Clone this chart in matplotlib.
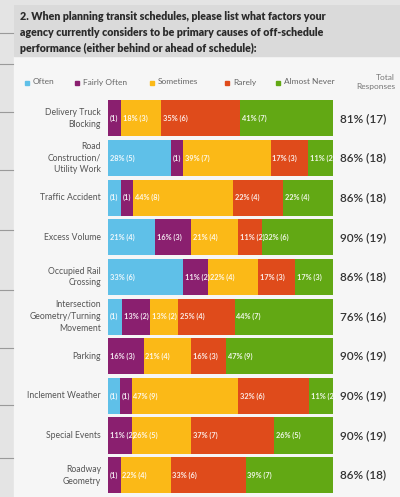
import matplotlib.pyplot as plt
from matplotlib.patches import Rectangle

plt.rcParams['font.family'] = ['Lato', 'DejaVu Sans']

categories = ['Delivery Truck\nBlocking', 'Road\nConstruction/\nUtility Work', 'Traffic Accident',
              'Excess Volume', 'Occupied Rail\nCrossing', 'Intersection\nGeometry/Turning\nMovement',
              'Parking', 'Inclement Weather', 'Special Events', 'Roadway\nGeometry']
series = ['Often', 'Fairly Often', 'Sometimes', 'Rarely', 'Almost Never']
colors = ['#5fc0e8', '#8a1f6f', '#fbb917', '#df4b1b', '#62a814']

often = [0, 5, 1, 4, 6, 1, 0, 1, 0, 0]
fairly_often = [1, 1, 1, 3, 2, 2, 3, 1, 2, 1]
sometimes = [3, 7, 8, 4, 4, 2, 4, 9, 5, 4]
rarely = [6, 3, 4, 2, 3, 4, 3, 6, 7, 6]
almost_never = [7, 2, 4, 6, 3, 7, 9, 2, 5, 7]
totals = ['81% (17)', '86% (18)', '86% (18)', '90% (19)', '86% (18)',
          '76% (16)', '90% (19)', '90% (19)', '90% (19)', '86% (18)']

title = ('2. When planning transit schedules, please list what factors your\n'
         'agency currently considers to be primary causes of off-schedule\n'
         'performance (either behind or ahead of schedule):')

W, H = 400, 497
fig = plt.figure(figsize=(W / 100, H / 100), dpi=100)
fig.patch.set_facecolor('#e4e4e4')

# page background: left strip with table lines, white panel, grey title band
for y in [33, 64, 112, 170, 230, 290, 348, 405, 458]:
    fig.add_artist(plt.Line2D([0, 13 / W], [1 - y / H] * 2, color='#9a9a9a', lw=0.8))
fig.add_artist(Rectangle((14 / W, 0), 1 - 14 / W, 1 - 5 / H, color='#f6f6f6', zorder=0))
fig.add_artist(Rectangle((14 / W, 1 - 56 / H), 1 - 14 / W, 51 / H, color='#dadada', zorder=0))
fig.text(20 / W, 1 - 11 / H, title, ha='left', va='top', fontsize=7.7, fontweight='heavy',
         color='#2b2b2b', linespacing=1.55)

# legend
leg_x = [25, 75, 150, 225, 276]
for x, name, c in zip(leg_x, series, colors):
    fig.add_artist(Rectangle((x / W, 1 - 84.5 / H), 4 / W, 4 / H, color=c))
    fig.text((x + 8) / W, 1 - 82 / H, name, ha='left', va='center', fontsize=6.0, color='#666666')
fig.text(395 / W, 1 - 82 / H, 'Total\nResponses', ha='right', va='center', fontsize=6.0,
         color='#777777', linespacing=1.5)

ax = fig.add_axes([108 / W, 2 / H, 225 / W, 396.5 / H])
ax.set_facecolor('none')
data = [often, fairly_often, sometimes, rarely, almost_never]
n = len(categories)
for i in range(n):
    counts = [d[i] for d in data]
    total = sum(counts)
    left = 0
    for j, cnt in enumerate(counts):
        if cnt == 0:
            continue
        w = cnt / total * 100
        bar = ax.barh(i, w, left=left, height=0.91, color=colors[j], edgecolor='none')
        pct = int(cnt / total * 100 + 0.5)
        lab = '(1)' if cnt == 1 else '%d%% (%d)' % (pct, cnt)
        t = ax.text(left + 0.8, i, lab, ha='left', va='center', fontsize=5.3,
                    color='white', fontweight='bold', alpha=0.9)
        t.set_clip_path(bar[0])
        left += w
ax.set_xlim(0, 100)
ax.set_ylim(n - 0.5, -0.5)
ax.axis('off')

for i in range(n):
    yc = 1 - (98.5 + (i + 0.5) * 39.65) / H
    fig.text(101 / W, yc, categories[i], ha='right', va='center', fontsize=6.2,
             color='#555555', linespacing=1.4)
    fig.text(340 / W, yc, totals[i], ha='left', va='center', fontsize=8.5,
             color='#333333', fontweight='semibold')

fig.savefig('out.png', dpi=100, facecolor=fig.get_facecolor())
